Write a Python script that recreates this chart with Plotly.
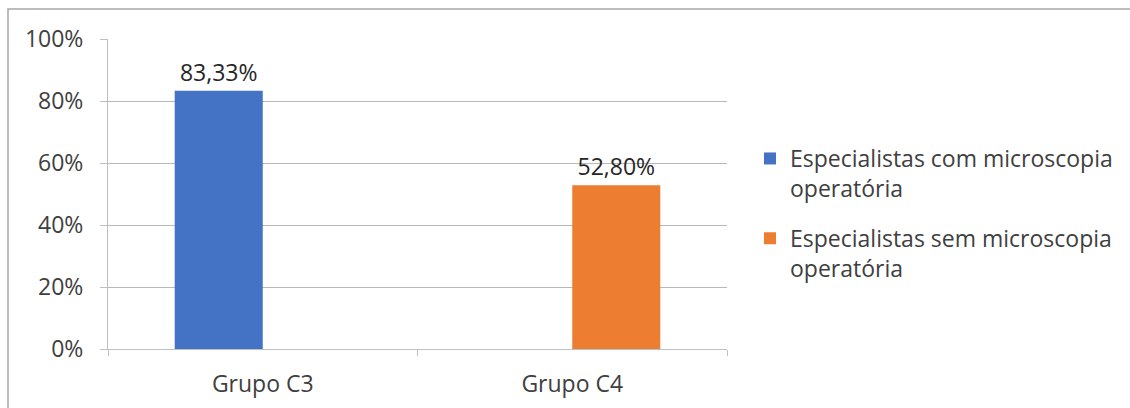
import plotly.graph_objects as go

categories = ["Grupo C3", "Grupo C4"]
series_names = ["Especialistas com microscopia<br>operatória",
                "Especialistas sem microscopia<br>operatória"]
com_values = [83.33, None]
sem_values = [None, 52.80]
y_ticks = [0, 20, 40, 60, 80, 100]
y_tick_labels = ["0%", "20%", "40%", "60%", "80%", "100%"]

colors = ["#4472C4", "#ED7D31"]
FONT = "Open Sans"
TXT = "#404040"

fig = go.Figure()
for i, (name, vals) in enumerate(zip(series_names, [com_values, sem_values])):
    fig.add_trace(go.Bar(
        x=categories, y=vals, name=name,
        marker=dict(color=colors[i], line=dict(width=0)),
        texttemplate="%{y:.2f}%", textposition="outside",
        textfont=dict(size=23, color="#262626", family=FONT),
        cliponaxis=False, legendgroup=f"g{i}",
    ))

L, R, T, B = 108, 403, 39, 59
W, H = 1130, 408
pw, ph = W - L - R, H - T - B

fig.update_layout(
    width=W, height=H,
    margin=dict(l=L, r=R, t=T, b=B, pad=0, autoexpand=False),
    paper_bgcolor="white", plot_bgcolor="white",
    barmode="group", bargap=0.431, bargroupgap=0,
    separators=",.",
    font=dict(family=FONT, size=23, color=TXT),
    legend=dict(
        x=(750 - L) / pw, y=(349 - 137) / ph, xanchor="left", yanchor="top",
        font=dict(size=23, color=TXT, family=FONT),
        traceorder="grouped", tracegroupgap=17, valign="top",
        itemwidth=30, bgcolor="rgba(0,0,0,0)",
    ),
    xaxis=dict(
        type="category", tickson="boundaries", ticks="outside", ticklen=6,
        tickcolor="#BFBFBF", showline=True, linecolor="#BFBFBF", linewidth=1,
        showgrid=False, tickfont=dict(size=23, color=TXT),
        ticklabelstandoff=14,
    ),
    yaxis=dict(
        range=[0, 100], tickvals=y_ticks, ticktext=y_tick_labels,
        ticks="outside", ticklen=7, tickcolor="#BFBFBF",
        showline=True, linecolor="#BFBFBF", linewidth=1,
        showgrid=True, gridcolor="#B8B8B8", gridwidth=1, zeroline=False,
        tickfont=dict(size=23, color=TXT), ticklabelstandoff=12,
    ),
    shapes=[dict(
        type="rect", xref="paper", yref="paper",
        x0=(8 - L) / pw, x1=(W + 20 - L) / pw,
        y0=(H - B - (H + 20)) / ph, y1=(H - B - 9) / ph,
        line=dict(color="#A6A6A6", width=1.5), fillcolor="rgba(0,0,0,0)",
        layer="below",
    )],
)

fig.write_html("out.html")
